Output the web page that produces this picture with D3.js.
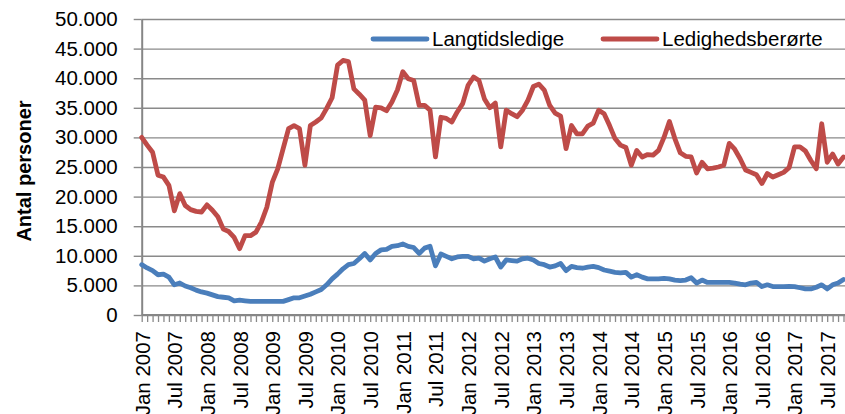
<!DOCTYPE html>
<html>
<head>
<meta charset="utf-8">
<script src="https://cdn.jsdelivr.net/npm/d3@7"></script>
<style>
body { margin: 0; background: #fff; }
svg { display: block; font-family: 'Liberation Sans', Arial, sans-serif; }
</style>
</head>
<body>
<svg id="chart"></svg>
<script>
// data, one value per month from Jan 2007
let years = [2007, 2008, 2009, 2010, 2011, 2012, 2013, 2014, 2015, 2016, 2017]
let monthNames = ['Jan', 'Feb', 'Mar', 'Apr', 'May', 'Jun', 'Jul', 'Aug', 'Sep', 'Oct', 'Nov', 'Dec']

let langtid = [
  8500, 7950, 7500, 6800, 6900, 6400, 5100, 5400, 4900, 4600, 4200, 3900,
  3700, 3400, 3100, 3000, 2900, 2400, 2500, 2400, 2300, 2300, 2300, 2300,
  2300, 2300, 2300, 2600, 2900, 2900, 3200, 3500, 3900, 4300, 5100, 6100,
  6900, 7800, 8500, 8700, 9500, 10400, 9300, 10400, 11000, 11100, 11600, 11700,
  12000, 11600, 11400, 10400, 11300, 11600, 8300, 10300, 9900, 9500, 9800, 9900,
  9900, 9500, 9600, 9100, 9500, 9800, 8100, 9300, 9200, 9100, 9500, 9600,
  9300, 8700, 8500, 8100, 8300, 8700, 7500, 8200, 8000, 7900, 8100, 8200,
  8000, 7600, 7400, 7200, 7100, 7200, 6400, 6800, 6400, 6100, 6100, 6100,
  6200, 6100, 5900, 5800, 5900, 6300, 5400, 5900, 5500, 5500, 5500, 5500,
  5500, 5400, 5200, 5100, 5400, 5500, 4800, 5100, 4800, 4800, 4800, 4850,
  4800, 4600, 4400, 4400, 4700, 5100, 4400, 5100, 5400, 6000
]

let ledighed = [
  30000, 28700, 27500, 23600, 23300, 21900, 17600, 20500, 18500, 17800, 17500, 17400,
  18600, 17700, 16600, 14500, 14100, 13100, 11200, 13400, 13400, 14000, 15700, 18200,
  22400, 24700, 28100, 31500, 32000, 31500, 25300, 32000, 32600, 33300, 34900, 36700,
  42200, 43000, 42800, 38200, 37300, 36300, 30300, 35100, 35000, 34500, 36000, 38000,
  41100, 39900, 39600, 35400, 35400, 34600, 26700, 33400, 33200, 32600, 34300, 35700,
  38800, 40200, 39600, 36500, 35000, 35800, 28400, 34600, 34000, 33500, 34600, 36300,
  38600, 39000, 38000, 35400, 34100, 33600, 28100, 32000, 30600, 30600, 31900, 32400,
  34600, 34000, 32000, 29800, 28700, 28300, 25300, 27800, 26700, 27100, 27000, 27800,
  30000, 32700, 29800, 27400, 26800, 26700, 24000, 25800, 24700, 24800, 25000, 25300,
  29000, 28000, 26400, 24500, 24100, 23700, 22200, 23900, 23300, 23700, 24100, 24900,
  28400, 28400, 27700, 26100, 24700, 32300, 25800, 27200, 25500, 26700
]

let yTicks = [0, 5000, 10000, 15000, 20000, 25000, 30000, 35000, 40000, 45000, 50000]
let seriesNames = ['Langtidsledige', 'Ledighedsberørte']
let seriesColors = ['#4a7ebb', '#be4b48']

let months = []
years.forEach((yr) => {
  monthNames.forEach((m) => {
    months.push(m + ' ' + yr)
  })
})
months = months.slice(0, langtid.length)
let tickLabels = months.filter((m) => m.startsWith('Jan') || m.startsWith('Jul'))

let width = 845
let height = 414
let plotLeft = 141.7
let plotRight = 843.5
let plotTop = 19
let plotBottom = 315

let svg = d3.select('#chart')
svg.attr('width', width).attr('height', height)

let xScale = d3.scalePoint()
  .domain(months)
  .range([plotLeft, plotRight])

let yScale = d3.scaleLinear()
  .domain([0, 50000])
  .range([plotBottom, plotTop])

let fmt = (d) => d3.format(',')(d).replace(',', '.')

// gridlines
svg.append('g')
  .attr('transform', 'translate(' + plotLeft + ',0)')
  .call(d3.axisLeft(yScale).tickValues(yTicks).tickSize(-(width - plotLeft)).tickFormat(''))
  .call(g => g.select('.domain').remove())
  .call(g => g.selectAll('line').attr('stroke', '#8a8a8a').attr('stroke-width', 1.4))

// y axis
let yAxis = svg.append('g')
  .attr('transform', 'translate(' + plotLeft + ',0)')
  .call(d3.axisLeft(yScale).tickValues(yTicks).tickSize(8).tickSizeOuter(0).tickPadding(16).tickFormat(fmt))
yAxis.select('.domain').attr('stroke', '#868686').attr('stroke-width', 2)
yAxis.selectAll('line').attr('stroke', '#8a8a8a').attr('stroke-width', 1.4)
yAxis.selectAll('text').attr('font-size', '20.5px').attr('fill', '#000').attr('font-family', null)

// x axis, one tick per month
let xAxis = svg.append('g')
  .attr('transform', 'translate(0,' + plotBottom + ')')
  .call(d3.axisBottom(xScale).tickSize(7).tickSizeOuter(0).tickFormat(''))
xAxis.select('.domain').attr('d', 'M' + plotLeft + ',0H' + width).attr('stroke', '#868686').attr('stroke-width', 2)
xAxis.selectAll('line').attr('stroke', '#8a8a8a').attr('stroke-width', 1.3)

// labels every six months
let xLabels = svg.append('g')
  .attr('transform', 'translate(0,' + plotBottom + ')')
  .call(d3.axisBottom(xScale).tickValues(tickLabels).tickSize(0))
xLabels.select('.domain').remove()
xLabels.selectAll('text')
  .attr('transform', 'rotate(-90)')
  .attr('text-anchor', 'end')
  .attr('x', -16)
  .attr('y', 0)
  .attr('dy', '0.36em')
  .attr('font-size', '20.5px')
  .attr('fill', '#000')
  .attr('font-family', null)

// lines
let line = d3.line()
  .x((d, i) => xScale(months[i]))
  .y((d) => yScale(d))

;[langtid, ledighed].forEach((vals, k) => {
  svg.append('path')
    .datum(vals)
    .attr('fill', 'none')
    .attr('stroke', seriesColors[k])
    .attr('stroke-width', 4.8)
    .attr('stroke-linejoin', 'round')
    .attr('stroke-linecap', 'round')
    .attr('d', line)
})

// y title
svg.append('text')
  .attr('transform', 'translate(31,171) rotate(-90)')
  .attr('text-anchor', 'middle')
  .attr('font-size', '20px')
  .attr('font-weight', 'bold')
  .text('Antal personer')

// legend
let legendX = [373, 603]
seriesNames.forEach((name, k) => {
  let g = svg.append('g').attr('transform', 'translate(' + legendX[k] + ',39)')
  g.append('line')
    .attr('x1', 0).attr('x2', 54)
    .attr('stroke', seriesColors[k])
    .attr('stroke-width', 4.8)
    .attr('stroke-linecap', 'round')
  g.append('text')
    .attr('x', 59)
    .attr('dy', '0.36em')
    .attr('font-size', '20.5px')
    .text(name)
})
</script>
</body>
</html>
